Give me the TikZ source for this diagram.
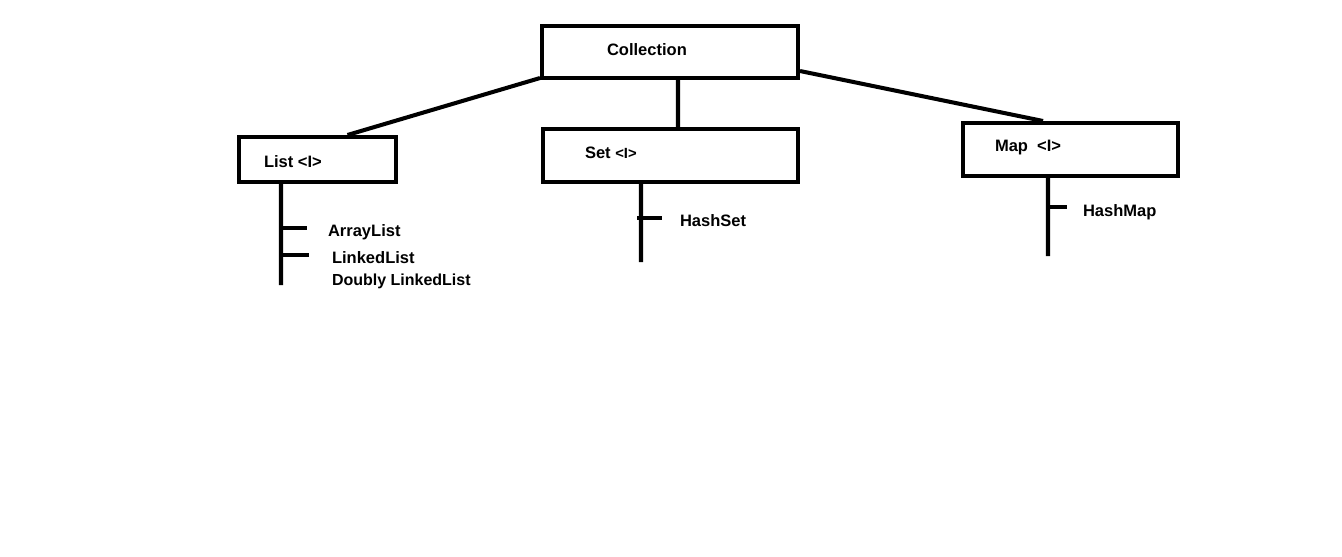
\documentclass[tikz,border=0pt]{standalone}
\usepackage{fontspec}
\setmainfont{Liberation Sans}
\usetikzlibrary{calc, positioning}

\begin{document}
\begin{tikzpicture}[x=0.02cm, y=-0.02cm, line width=2.3pt,
        box/.style={draw, rectangle, inner sep=0pt},
        word/.style={anchor=west, inner sep=0pt, font=\fontsize{9.4}{11}\selectfont\bfseries}]
    \useasboundingbox (0,0) rectangle (1342,556);
    % boxes
    \node[box, minimum width=5.12cm, minimum height=1.04cm] (col) at (670,52) {};
    \node[box, minimum width=3.14cm, minimum height=0.9cm] (list) at (317.5,159.5) {};
    \node[box, minimum width=5.1cm, minimum height=1.06cm] (set) at (670.5,155.5) {};
    \node[box, minimum width=4.3cm, minimum height=1.06cm] (map) at (1070.5,149.5) {};
    % box titles
    \node[word] (col_t) at (605,50) {Collection};
    \node[word] (list_t) at (262,162) {List <I>};
    \node[word] (set_t) at (583,153) {Set {\fontsize{8.4}{10}\selectfont<I>}};
    \node[word] (map_t) at (993,148) {Map \ <I>};
    % members
    \node[word] (arraylist) at (326,232) {ArrayList};
    \node[word] (linkedlist) at (330,258) {LinkedList};
    \node[word] (dlinkedlist) at (330,281) {\fontsize{9.1}{11}\selectfont Doubly LinkedList};
    \node[word] (hashset) at (678,221) {HashSet};
    \node[word] (hashmap) at (1081,212) {HashMap};
    % free ends
    \coordinate (list_end) at (281,285);
    \coordinate (set_end) at (641,262);
    \coordinate (map_end) at (1048,256);
    \coordinate (al_tick) at (307,228);
    \coordinate (ll_tick) at (309,255);
    \coordinate (hs_tick) at (662,218);
    \coordinate (hm_tick) at (1067,207);
    % links
    \draw ([yshift=0.04cm]col.south west) -- ([xshift=0.6cm]list.north);
    \draw ([xshift=0.16cm]col.south) -- ([xshift=0.15cm]set.north);
    \draw ([yshift=-0.38cm]col.east) -- ([xshift=-0.55cm]map.north);
    % stems
    \draw ([xshift=-0.73cm]list.south) -- (list_end);
    \draw ([xshift=-0.59cm]set.south) -- (set_end);
    \draw ([xshift=-0.45cm]map.south) -- (map_end);
    \draw (list_end |- al_tick) -- (al_tick);
    \draw ([xshift=-0.04cm]list_end |- ll_tick) -- (ll_tick);
    \draw ([xshift=-0.08cm]set_end |- hs_tick) -- (hs_tick);
    \draw (map_end |- hm_tick) -- (hm_tick);
\end{tikzpicture}
\end{document}
